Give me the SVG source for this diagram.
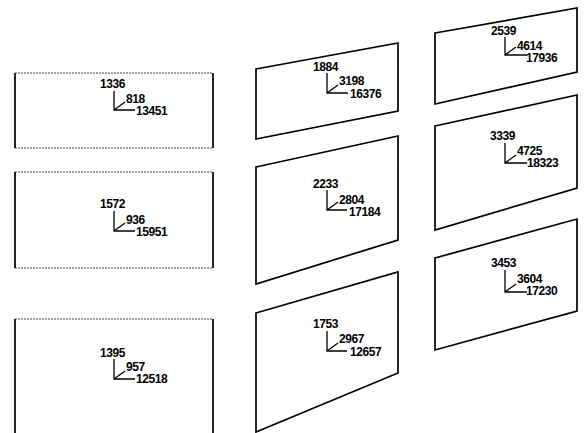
<svg xmlns="http://www.w3.org/2000/svg" width="587" height="433" viewBox="0 0 587 433">
<style>
.panel{fill:none;stroke:#000;stroke-width:1.7;stroke-linejoin:miter}
.side{stroke:#000;stroke-width:1.7;fill:none}
.faint{stroke:#444;stroke-width:1;stroke-dasharray:2 1;fill:none}
.axis{fill:none;stroke:#000;stroke-width:1.3}
.lbl{font-family:"Liberation Sans",Arial,sans-serif;font-weight:bold;font-size:12px;letter-spacing:-0.4px;fill:#000}
</style>
<rect width="587" height="433" fill="#fff"/>
<g id="n1336">
<line class="faint" x1="15" y1="73" x2="213" y2="73"/><line class="faint" x1="15" y1="148" x2="213" y2="148"/>
<line class="side" x1="15" y1="73" x2="15" y2="148"/><line class="side" x1="213" y1="73" x2="213" y2="148"/>
<path class="axis" d="M114 91V110H135M114 110L125 102"/>
<text class="lbl" x="100" y="88">1336</text><text class="lbl" x="126" y="103">818</text><text class="lbl" x="136" y="115">13451</text>
</g>
<g id="n1572">
<line class="faint" x1="15" y1="172" x2="213" y2="172"/><line class="faint" x1="15" y1="268" x2="213" y2="268"/>
<line class="side" x1="15" y1="172" x2="15" y2="268"/><line class="side" x1="213" y1="172" x2="213" y2="268"/>
<path class="axis" d="M114 211V231H135M114 231L125 223"/>
<text class="lbl" x="100" y="208">1572</text><text class="lbl" x="126" y="224">936</text><text class="lbl" x="136" y="236">15951</text>
</g>
<g id="n1395">
<line class="faint" x1="15" y1="319" x2="213" y2="319"/>
<line class="side" x1="15" y1="319" x2="15" y2="433"/><line class="side" x1="213" y1="319" x2="213" y2="433"/>
<path class="axis" d="M114 359V379H135M114 379L125 371"/>
<text class="lbl" x="100" y="357">1395</text><text class="lbl" x="126" y="371">957</text><text class="lbl" x="136" y="383">12518</text>
</g>
<g id="n1884">
<polygon class="panel" points="256,69 398,43 398,111 256,139"/>
<path class="axis" d="M327 73V93H348M327 93L338 85"/>
<text class="lbl" x="313" y="71">1884</text><text class="lbl" x="339" y="85">3198</text><text class="lbl" x="350" y="98">16376</text>
</g>
<g id="n2233">
<polygon class="panel" points="256,167 398,136 398,240 256,284"/>
<path class="axis" d="M327 190V210H347M327 210L338 202"/>
<text class="lbl" x="313" y="188">2233</text><text class="lbl" x="339" y="204">2804</text><text class="lbl" x="349" y="216">17184</text>
</g>
<g id="n1753">
<polygon class="panel" points="256,313 398,272 398,373 256,432"/>
<path class="axis" d="M327 331V351H347M327 351L338 343"/>
<text class="lbl" x="313" y="328">1753</text><text class="lbl" x="339" y="343">2967</text><text class="lbl" x="350" y="356">12657</text>
</g>
<g id="n2539">
<polygon class="panel" points="435,33 577,8 577,72 435,104"/>
<path class="axis" d="M505 37V55H527M505 55L516 47"/>
<text class="lbl" x="491" y="35">2539</text><text class="lbl" x="517" y="50">4614</text><text class="lbl" x="526" y="62">17936</text>
</g>
<g id="n3339">
<polygon class="panel" points="435,126 577,95 577,188 435,230"/>
<path class="axis" d="M505 143V163H527M505 163L516 155"/>
<text class="lbl" x="490" y="140">3339</text><text class="lbl" x="517" y="155">4725</text><text class="lbl" x="527" y="167">18323</text>
</g>
<g id="n3453">
<polygon class="panel" points="435,258 577,219 577,311 435,350"/>
<path class="axis" d="M505 270V292H527M505 292L516 284"/>
<text class="lbl" x="491" y="267">3453</text><text class="lbl" x="517" y="283">3604</text><text class="lbl" x="526" y="295">17230</text>
</g>
</svg>
